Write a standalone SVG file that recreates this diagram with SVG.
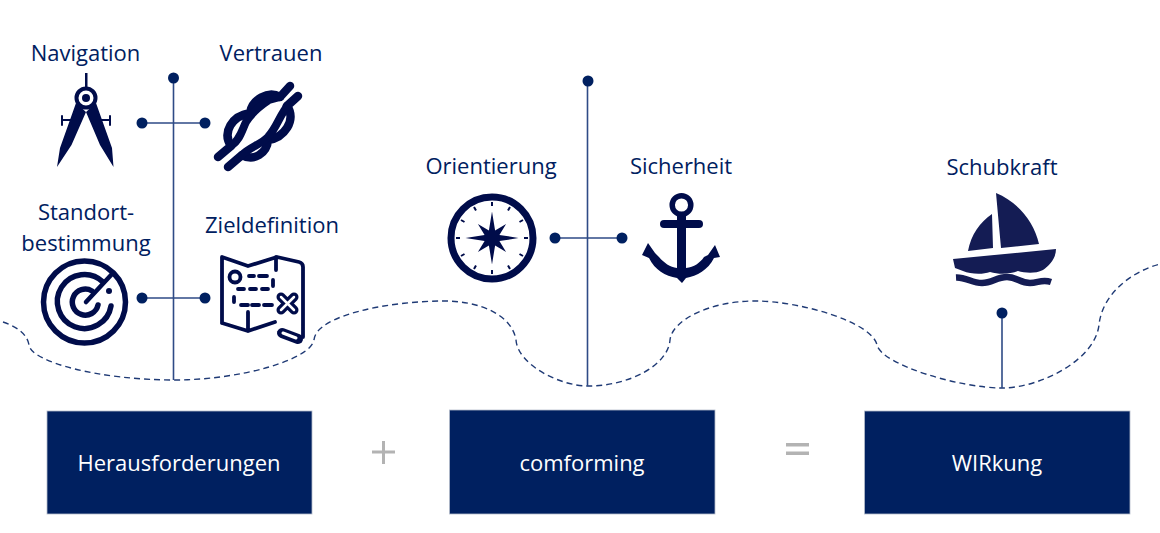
<svg xmlns="http://www.w3.org/2000/svg" width="1160" height="533" viewBox="0 0 1160 533">
<style>
text{font-family:"Open Sans","Noto Sans","Liberation Sans",sans-serif;font-size:22px;text-anchor:middle}
.lbl{fill:#002060}
.box{fill:#002060;stroke:#b4bccb;stroke-width:.8}
.boxt{fill:#fff}
.ic{fill:#000c4a}
.ics{fill:none;stroke:#000c4a;stroke-linecap:round;stroke-linejoin:round}
.ln{fill:none;stroke:#2f4b86;stroke-width:1.6}
.dot{fill:#002060}
.wave{fill:none;stroke:#1f3a75;stroke-width:1.4;stroke-dasharray:6 4}
.op{fill:#b3b3b3}
</style>
<rect width="1160" height="533" fill="#fff"/>
<g id="connectors">
<path class="wave" d="M3,322C15,326 27,333 29,345C31,362 100,380 174,380C240,380 310,360 314,340C316,315 390,301 444,301C480,301 512,315 516,340C518,365 560,386 588,386C630,386 668,365 670,340C672,320 710,301 755,301C800,301 872,322 877,345C882,365 960,388 1002,388C1040,388 1095,360 1099,325C1102,295 1130,272 1160,264"/>
<path class="ln" d="M173.500,78V380M142,123H205M142,298H205M587.500,81V386M555,238H622M1002,313V388"/>
<circle class="dot" cx="173.500" cy="78" r="5.500"/><circle class="dot" cx="142" cy="123" r="5.500"/><circle class="dot" cx="205" cy="123" r="5.500"/>
<circle class="dot" cx="142" cy="298" r="5.500"/><circle class="dot" cx="205" cy="298" r="5.500"/>
<circle class="dot" cx="588" cy="81" r="5.500"/><circle class="dot" cx="555" cy="238" r="5.500"/><circle class="dot" cx="622" cy="238" r="5.500"/>
<circle class="dot" cx="1002" cy="313" r="5.500"/>
</g>
<g id="navigation">
<text class="lbl" x="85.500" y="61">Navigation</text>
<path class="ic" d="M85,73h2.500v15h-2.500zM76,103L86,112L96,103L112,148L113.500,167L100,145L86,112L71.500,145L57,167L60,148Z"/>
<circle cx="86" cy="98" r="9.500" fill="#fff" stroke="#000c4a" stroke-width="4"/><circle class="ic" cx="86" cy="98" r="4"/>
<path class="ics" stroke-width="2" d="M62,120H72M100,120H110M62,116V125M110,116V125"/>
</g>
<g id="vertrauen">
<text class="lbl" x="271" y="61">Vertrauen</text>
<path class="ics" stroke-width="8.500" d="M218,157L231,146C222,132 232,116 250,113C252,100 268,90 280,97L290,86M228,167L242,155C254,162 267,153 268,140C284,138 297,120 287,106L298,96"/>
<path class="ics" stroke-width="8" d="M231,146C240,140 242,130 246,122C252,112 260,106 269,100L280,97M287,106L284,111C278,120 276,128 268,137C260,145 250,147 242,155"/>
</g>
<g id="standortbestimmung">
<text class="lbl" x="86" y="220">Standort-</text>
<text class="lbl" x="86" y="250.500">bestimmung</text>
<g class="ics" stroke-width="5.500">
<circle cx="84.500" cy="302" r="41"/>
<path d="M103,282A27,27 0 1 0 111,306"/>
<path d="M92,291A13,13 0 1 0 98,305"/>
</g>
<path class="ics" stroke-width="4.500" d="M86,302L112,274"/>
<circle class="ic" cx="109" cy="291" r="3"/>
</g>
<g id="zieldefinition">
<text class="lbl" x="272" y="233">Zieldefinition</text>
<g class="ics" stroke-width="3.800">
<path d="M222,323V257L248,266L277,257L299,262Q303,263 303,267V337M222,323L248,331L275,322M248,312V331M276,257V270"/>
<circle cx="235" cy="277" r="5.500"/>
<path d="M249,276H254M259,276H267M273,280V286M268,289H262M256,289H250M244,289H238M234,297V302M241,305H248M252,305H259M264,305H272"/>
</g>
<path class="ics" stroke-width="10" d="M282,333L298,339"/>
<path fill="none" stroke="#fff" stroke-width="3" stroke-linecap="round" d="M283,333L296,338"/>
<path class="ics" stroke-width="9" d="M281,297L294,310M294,297L281,310"/>
<path fill="none" stroke="#fff" stroke-width="2.500" stroke-linecap="round" d="M281,297L294,310M294,297L281,310"/>
</g>
<g id="orientierung">
<text class="lbl" x="491" y="174">Orientierung</text>
<circle cx="492" cy="238" r="41" fill="none" stroke="#000c4a" stroke-width="7"/>
<path class="ic" d="M492,211.500L495.100,230.600L506.100,223.900L499.400,234.900L518.500,238L499.400,241.100L506.100,252.100L495.100,245.400L492,264.500L488.900,245.400L477.900,252.100L484.600,241.100L465.500,238L484.600,234.900L477.900,223.900L488.900,230.600Z"/>
<path stroke="#000c4a" stroke-width="2" fill="none" d="M492,202V206M492,270V274M456,238H460M524,238H528M474,207L476,210.500M510,207L508,210.500M461,220L464.500,222M523,220L519.500,222M461,256L464.500,254M523,256L519.500,254M474,269L476,265.500M510,269L508,265.500"/>
</g>
<g id="sicherheit">
<text class="lbl" x="681" y="174">Sicherheit</text>
<circle cx="681.500" cy="205" r="9.300" fill="none" stroke="#000c4a" stroke-width="5.500"/>
<path class="ics" stroke-width="8" d="M664,224H699"/>
<path class="ic" d="M677,214H686V268C694,267 700,263 704,257L708,255L715,245L720,257L714,258C708,270 697,276 686,278L682,283L677,278C665,276 655,270 649,258L642,255L648,243L655,253L659,257C664,263 670,267 677,268Z"/>
</g>
<g id="schubkraft">
<text class="lbl" x="1002" y="175">Schubkraft</text>
<path fill="#141c54" d="M996,193C1018,202 1034,222 1039,244L1001,248ZM992,214L993,248L968,251C971,235 980,222 992,214ZM953,259L1056,249C1056,258 1050,265 1043,270C1035,274 1025,273 1018,271C1010,274 1000,275 990,272C982,275 970,274 963,271L955,268Z"/>
<path fill="none" stroke="#141c54" stroke-width="6.500" d="M956,277.500C966,277 972,283 982,283C992,283 997,277 1007,277C1017,277 1020,283 1030,283C1038,283 1042,279 1051,282"/>
</g>
<g id="herausforderungen"><rect class="box" x="47" y="411" width="265" height="103"/><text class="boxt" x="179" y="471">Herausforderungen</text></g>
<g id="plus"><path class="op" d="M372,450.500H395V453.500H372ZM382,441H385V464H382Z"/></g>
<g id="comforming"><rect class="box" x="449.500" y="410" width="265.500" height="104"/><text class="boxt" x="582" y="471">comforming</text></g>
<g id="equals"><path class="op" d="M786,443H809V446.500H786ZM786,451.500H809V455H786Z"/></g>
<g id="wirkung"><rect class="box" x="864.500" y="411" width="265.500" height="103"/><text class="boxt" x="997" y="471">WIRkung</text></g>
</svg>
